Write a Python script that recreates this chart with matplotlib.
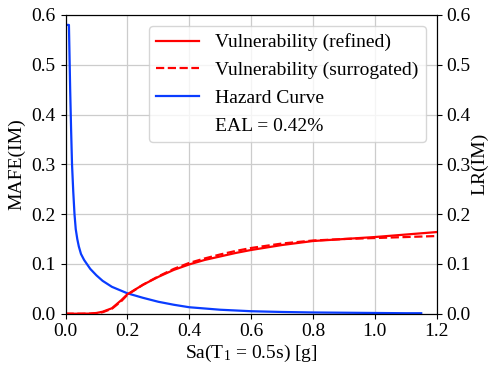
import numpy as np
import matplotlib
matplotlib.use('Agg')
import matplotlib.pyplot as plt
from matplotlib.lines import Line2D

plt.rcParams['font.family'] = ['Liberation Serif', 'DejaVu Serif']
plt.rcParams['mathtext.fontset'] = 'custom'
plt.rcParams['mathtext.rm'] = 'Liberation Serif'
plt.rcParams['mathtext.it'] = 'Liberation Serif:italic'
plt.rcParams['font.size'] = 14

# ── Data ────────────────────────────────────────────────────
# hazard curve: mean annual frequency of exceedance
haz_x = [0.001, 0.011, 0.015, 0.018, 0.021, 0.025, 0.029, 0.033, 0.038, 0.043,
         0.05, 0.06, 0.07, 0.08, 0.1, 0.12, 0.15, 0.2, 0.25, 0.3, 0.35,
         0.4, 0.5, 0.6, 0.7, 0.8, 0.9, 1.0, 1.1, 1.15]
haz_y = [0.58, 0.58, 0.45, 0.37, 0.30, 0.245, 0.20, 0.17, 0.15, 0.135,
         0.12, 0.108, 0.099, 0.09, 0.077, 0.066, 0.054, 0.041, 0.032, 0.024, 0.018,
         0.013, 0.008, 0.005, 0.0035, 0.0025, 0.002, 0.0015, 0.001, 0.001]

# vulnerability: loss ratio given IM
vul_x = [0.0, 0.05, 0.08, 0.1, 0.12, 0.15, 0.18, 0.2, 0.25, 0.3, 0.35,
         0.4, 0.45, 0.5, 0.55, 0.6, 0.7, 0.8, 0.9, 1.0, 1.1, 1.2]
vul_refined = [0.0, 0.0, 0.0003, 0.0015, 0.004, 0.011, 0.027, 0.039, 0.058, 0.074, 0.088,
               0.099, 0.108, 0.115, 0.122, 0.128, 0.138, 0.146, 0.150, 0.154, 0.159, 0.164]
vul_surr = [0.0, 0.0, 0.0002, 0.001, 0.003, 0.010, 0.025, 0.038, 0.058, 0.075, 0.09,
            0.102, 0.111, 0.119, 0.126, 0.132, 0.141, 0.147, 0.150, 0.152, 0.154, 0.156]

eal_text = 'EAL = 0.42%'

# ── Plot ────────────────────────────────────────────────────
fig = plt.figure(figsize=(4.89, 3.65), dpi=100)
ax = fig.add_axes([0.134, 0.1405, 0.759, 0.8185])
ax2 = ax.twinx()

hz, = ax.plot(haz_x, haz_y, color='#0a3cff', lw=1.6, label='Hazard Curve')
r1, = ax2.plot(vul_x, vul_refined, color='#ff0000', lw=1.6,
               label='Vulnerability (refined)')
r2, = ax2.plot(vul_x, vul_surr, color='#ff0000', lw=1.6, ls='--',
               label='Vulnerability (surrogated)')

for a in (ax, ax2):
    a.set_xlim(0, 1.2)
    a.set_ylim(0, 0.6)
    a.set_yticks(np.arange(0, 0.61, 0.1))
ax.set_xticks(np.arange(0, 1.21, 0.2))
ax.grid(color='#cccccc', lw=0.9)

ax.set_xlabel(r'Sa(T$_1$ = 0.5s) [g]', labelpad=2)
ax.set_ylabel('MAFE(IM)')
ax2.set_ylabel('LR(IM)', labelpad=0)

eal = Line2D([], [], color='none', label=eal_text)
ax2.legend(handles=[r1, r2, hz, eal], loc='upper right', fontsize=14,
           handlelength=2.2, borderaxespad=0.55, labelspacing=0.52)

fig.savefig('out.png', dpi=100)
